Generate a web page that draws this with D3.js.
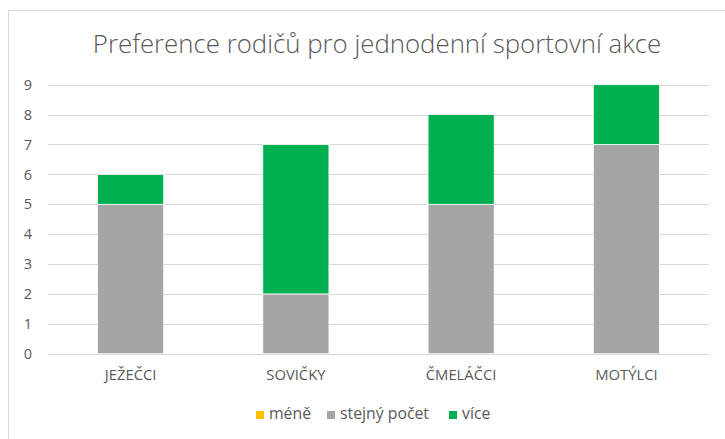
<!DOCTYPE html>
<html>
<head>
<meta charset="utf-8">
<script src="https://cdn.jsdelivr.net/npm/d3@7"></script>
<style>
  html, body { margin: 0; padding: 0; background: #fff; }
  svg { display: block; font-family: "Open Sans", "Liberation Sans", sans-serif; }
</style>
</head>
<body>
<svg id="chart" width="725" height="439"></svg>
<script>
// Groups and how many parents chose each option
const categories = ["JEŽEČCI", "SOVIČKY", "ČMELÁČCI", "MOTÝLCI"];
const seriesNames = ["méně", "stejný počet", "více"];
const mene = [0, 0, 0, 0];
const stejnyPocet = [5, 2, 5, 7];
const vice = [1, 5, 3, 2];
const yTicks = [0, 1, 2, 3, 4, 5, 6, 7, 8, 9];
const colors = ["#FFC000", "#A5A5A5", "#00B050"];

const svg = d3.select("#chart");
const W = 725, H = 439;
const plot = { left: 48, right: 709, top: 84.7, bottom: 353.7 };
const textColor = "#595959";

// chart frame
svg.append("rect")
  .attr("x", 8.5).attr("y", 10.5)
  .attr("width", W + 10).attr("height", H + 10)
  .attr("fill", "#fff").attr("stroke", "#D9D9D9").attr("stroke-width", 1);

// title
svg.append("text")
  .attr("x", 377).attr("y", 53)
  .attr("text-anchor", "middle")
  .attr("font-size", 25.8)
  .attr("fill", textColor)
  .attr("font-weight", 300)
  .text("Preference rodičů pro jednodenní sportovní akce");

const x = d3.scaleBand().domain(categories)
  .range([plot.left, plot.right]).paddingInner(0.6).paddingOuter(0.3);
const y = d3.scaleLinear().domain([0, 9]).range([plot.bottom, plot.top]);

// gridlines
svg.append("g").selectAll("line").data(yTicks).join("line")
  .attr("x1", plot.left).attr("x2", plot.right)
  .attr("y1", d => Math.round(y(d)) + 0.5).attr("y2", d => Math.round(y(d)) + 0.5)
  .attr("stroke", "#D9D9D9").attr("stroke-width", 1);

// y axis labels
const yAxis = d3.axisLeft(y).tickValues(yTicks).tickSize(0).tickPadding(0);
const gy = svg.append("g").attr("transform", "translate(32,0)").call(yAxis);
gy.select(".domain").remove();
gy.selectAll("text").attr("font-size", 14.5).attr("fill", textColor)
  .attr("font-family", "'Open Sans', sans-serif");

// x axis labels
const xAxis = d3.axisBottom(x).tickSize(0).tickPadding(0);
const gx = svg.append("g").attr("transform", `translate(0,${plot.bottom + 16})`).call(xAxis);
gx.select(".domain").remove();
gx.selectAll("text").attr("font-size", 14.8).attr("fill", textColor)
  .attr("font-family", "'Open Sans', sans-serif");

// stacked bars
const rows = categories.map((c, i) => ({ cat: c, "méně": mene[i], "stejný počet": stejnyPocet[i], "více": vice[i] }));
const stacked = d3.stack().keys(seriesNames)(rows);
svg.append("g").selectAll("g").data(stacked).join("g")
  .attr("fill", (d, i) => colors[i])
  .selectAll("rect").data(d => d.filter(v => v[1] - v[0] > 0)).join("rect")
  .attr("x", d => x(d.data.cat))
  .attr("width", x.bandwidth())
  .attr("y", d => y(d[1]))
  .attr("height", d => y(d[0]) - y(d[1]))
  .attr("stroke", "#fff").attr("stroke-width", 0.75);

// legend
const legendX = [256, 327, 449];
const lg = svg.append("g").selectAll("g").data(seriesNames).join("g")
  .attr("transform", (d, i) => `translate(${legendX[i]},0)`);
lg.append("rect").attr("x", 0).attr("y", 411).attr("width", 8).attr("height", 8)
  .attr("fill", (d, i) => colors[i]);
lg.append("text").attr("x", 13).attr("y", 419)
  .attr("font-size", 15.8).attr("fill", textColor)
  .attr("font-family", "'Open Sans', sans-serif")
  .text(d => d);
</script>
</body>
</html>
